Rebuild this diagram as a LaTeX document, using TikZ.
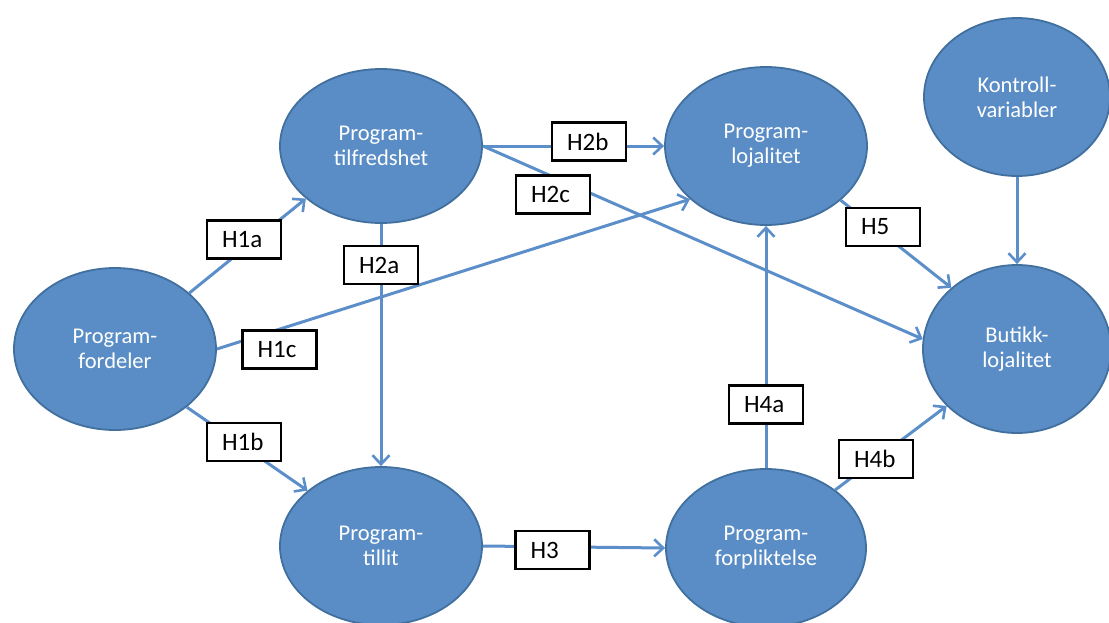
\documentclass[tikz,border=0pt]{standalone}
\usepackage{fontspec}
\setmainfont{Carlito}
\usetikzlibrary{shapes.geometric,arrows.meta}
\definecolor{bubblefill}{HTML}{5A8DC5}
\definecolor{bubbleedge}{HTML}{41709F}
\definecolor{linkblue}{HTML}{5C8FCA}
\tikzset{
  construct/.style={ellipse, fill=bubblefill, draw=bubbleedge, line width=1.8pt,
    inner sep=0pt, text=white, align=center,
    font=\fontsize{22.5}{25}\selectfont},
  link/.style={draw=linkblue, line width=3pt,
    -{Straight Barb[length=9pt,width=17pt,line width=2.6pt]}},
  hyp/.style={draw=black, fill=white, line width=2.4pt, minimum width=74pt,
    minimum height=38pt, text width=44pt, align=left, inner xsep=14pt,
    inner ysep=0pt, font=\fontsize{25}{26}\selectfont}
}
\begin{document}
\begin{tikzpicture}[x=1pt,y=-1pt]
\useasboundingbox (0,0) rectangle (1109,622);

% constructs
\node[construct, minimum width=202pt, minimum height=162pt] (fordeler) at (115,349) {Program-\\fordeler};
\node[construct, minimum width=202pt, minimum height=154pt] (tilfred) at (381,146) {Program-\\tilfredshet};
\node[construct, minimum width=202pt, minimum height=158pt] (lojal) at (766,146) {Program-\\lojalitet};
\node[construct, minimum width=186pt, minimum height=158pt] (kontroll) at (1017,97) {Kontroll-\\variabler};
\node[construct, minimum width=188pt, minimum height=168pt] (butikk) at (1017,349) {Butikk-\\lojalitet};
\node[construct, minimum width=202pt, minimum height=158pt] (tillit) at (381,546) {Program-\\tillit};
\node[construct, minimum width=200pt, minimum height=158pt] (forplikt) at (766,548) {Program-\\forpliktelse};

% paths between constructs
\draw[link] (fordeler.37) -- (tilfred.215);
\draw[link] (fordeler.321) -- (tillit.143);
\draw[link] (fordeler.east) -- (lojal.215);
\draw[link] (tilfred.south) -- (tillit.north);
\draw[link] (tilfred.east) -- (lojal.west);
\draw[link] (tilfred.east) -- (butikk.174);
\draw[link] (lojal.324) -- (butikk.137);
\draw[link] (kontroll.south) -- (butikk.north);
\draw[link] (tillit.east) -- (forplikt.west);
\draw[link] (forplikt.north) -- (lojal.south);
\draw[link] (forplikt.40) -- (butikk.219);

% hypothesis labels
\node[hyp] (h1a) at (244,239.5) {H1a};
\node[hyp] (h2a) at (381,265) {H2a};
\node[hyp] (h1c) at (279.5,349.5) {H1c};
\node[hyp] (h1b) at (244,442) {H1b};
\node[hyp] (h2b) at (589,141.5) {H2b};
\node[hyp] (h2c) at (553,194.5) {H2c};
\node[hyp] (h5) at (883,227) {H5};
\node[hyp] (h4a) at (766,404.5) {H4a};
\node[hyp] (h4b) at (876,459) {H4b};
\node[hyp] (h3) at (552.5,550) {H3};
\end{tikzpicture}
\end{document}
